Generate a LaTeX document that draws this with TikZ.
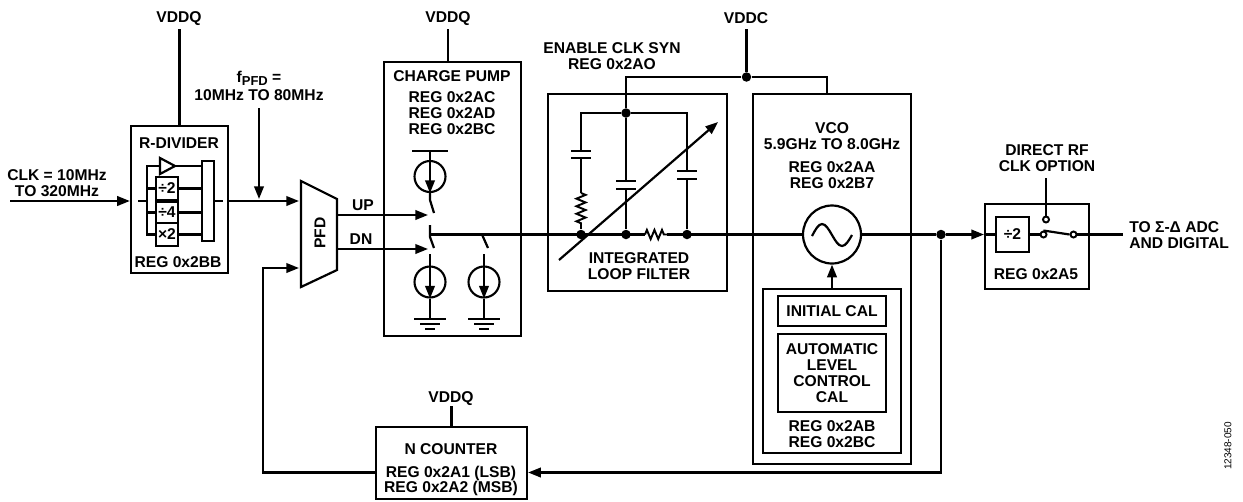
\documentclass[tikz,border=0pt]{standalone}
\usepackage{fontspec}
\setmainfont{Liberation Sans}
\usetikzlibrary{positioning,arrows.meta,calc,decorations.pathmorphing}
\tikzset{
  wire/.style={line width=1.25pt},
  sig/.style={-{Triangle[length=7.2pt,width=5.4pt]},line width=1.25pt},
  blk/.style={draw,line width=1.3pt,inner sep=0pt},
  lbl/.style={font=\fontsize{8.9}{9}\selectfont\bfseries,inner sep=0pt,align=center},
  dot/.style={circle,fill=black,inner sep=0pt,minimum size=0.19cm},
  csrc/.style={circle,draw,line width=1.2pt,inner sep=0pt,minimum size=0.62cm},
  swpt/.style={circle,draw,line width=1.1pt,fill=white,inner sep=0pt,minimum size=0.12cm},
  rzig/.style={line width=1.1pt,decorate,decoration={zigzag,amplitude=2.6pt,segment length=4.3pt}},
  plate/.style={line width=1.25pt},
}
\begin{document}
\begin{tikzpicture}[x=0.02cm,y=-0.02cm]
  \useasboundingbox (0,0) rectangle (1243,501);
  % boxes
  \node[blk,minimum width=1.94cm,minimum height=2.94cm] (rdiv) at (179.5,199.5) {};
  \node[blk,minimum width=2.74cm,minimum height=5.48cm] (pump) at (452.5,199) {};
  \node[blk,minimum width=3.58cm,minimum height=3.94cm] (filt) at (637.5,192.5) {};
  \node[blk,minimum width=3.16cm,minimum height=7.40cm] (vco) at (832,279) {};
  \node[blk,minimum width=2.76cm,minimum height=3.28cm] (cal) at (832,371) {};
  \node[blk,minimum width=2.16cm,minimum height=0.60cm] (ical) at (832,311) {};
  \node[blk,minimum width=2.16cm,minimum height=1.56cm] (alc) at (832,373) {};
  \node[blk,minimum width=2.08cm,minimum height=1.70cm] (out) at (1037,246.5) {};
  \node[blk,minimum width=3.02cm,minimum height=1.44cm] (ncnt) at (451.5,463) {};
  % labels
  \node[lbl] (vddqa) at (179,19) {VDDQ};
  \node[lbl] (vddqb) at (448,19) {VDDQ};
  \node[lbl] (vddqc) at (451,399) {VDDQ};
  \node[lbl] (vddc) at (746,18) {VDDC};
  \node[lbl] (clk) at (57,183) {CLK = 10MHz\\TO 320MHz};
  \node[lbl] (fpfd) at (259,86) {f\raisebox{-2pt}{\fontsize{7.4}{8}\selectfont PFD} =\\[1.5pt]10MHz TO 80MHz};
  \node[lbl] (rname) at (179,143) {R-DIVIDER};
  \node[lbl] (rreg) at (178,262) {REG 0x2BB};
  \node[lbl] (uplbl) at (363,205) {UP};
  \node[lbl] (dnlbl) at (361,239) {DN};
  \node[lbl,rotate=90] (pfdlbl) at (320,233) {PFD};
  \node[lbl] (pname) at (452,76) {CHARGE PUMP};
  \node[lbl] (preg) at (452,113) {REG 0x2AC\\REG 0x2AD\\REG 0x2BC};
  \node[lbl] (enlbl) at (612,56) {ENABLE CLK SYN\\REG 0x2AO};
  \node[lbl] (fname) at (639,266) {INTEGRATED\\LOOP FILTER};
  \node[lbl] (vname) at (832,136) {VCO\\5.9GHz TO 8.0GHz};
  \node[lbl] (vreg) at (832,175) {REG 0x2AA\\REG 0x2B7};
  \node[lbl] (icallbl) at (ical) {INITIAL CAL};
  \node[lbl] (alclbl) at (alc) {AUTOMATIC\\LEVEL\\CONTROL\\CAL};
  \node[lbl] (calreg) at (832,434) {REG 0x2AB\\REG 0x2BC};
  \node[lbl] (dirrf) at (1047,158) {DIRECT RF\\CLK OPTION};
  \node[lbl] (outreg) at (1036,274) {REG 0x2A5};
  \node[lbl,anchor=west,align=left] (outlbl) at (1129,235) {TO Σ-Δ ADC\\AND DIGITAL};
  \node[lbl] (nname) at (451,449) {N COUNTER};
  \node[lbl] (nreg) at (451,481) {REG 0x2A1 (LSB)\\REG 0x2A2 (MSB)};
  \node[font=\fontsize{5.7}{6}\selectfont,rotate=90,inner sep=0pt] (code) at (1228,446) {12348-050};
  % r-divider inside
  \node[blk,minimum width=0.24cm,minimum height=1.60cm] (mux) at (208,201) {};
  \node[blk,lbl,minimum width=0.44cm,minimum height=0.46cm] (dtwo) at (167,188.5) {÷2};
  \node[blk,lbl,minimum width=0.44cm,minimum height=0.42cm] (dfour) at (167,212.5) {÷4};
  \node[blk,lbl,minimum width=0.44cm,minimum height=0.46cm] (mtwo) at (167,234.5) {×2};
  \coordinate (bufin) at (160,166);
  \coordinate (bufout) at (175,166);
  \coordinate (rail) at (147,166);
  \draw[wire] (bufin) -- (rail) -- (rail |- mtwo.west) -- (mtwo.west);
  \draw[plate] (160,158) -- (bufout) -- (160,174) -- cycle;
  \draw[wire] (bufout) -- (bufout -| mux.west);
  \foreach \n in {dtwo,dfour,mtwo} {
    \draw[wire] (\n.east) -- (\n.east -| mux.west);
    \draw[wire] (\n.west) -- (\n.west -| rail);
  }
  \draw[wire] (138,201) -- (rail |- 138,201);
  \draw[wire] (mux.east) -- (223,201);
  % pfd
  \coordinate (pfdnw) at (301,181);
  \coordinate (pfdne) at (337,199);
  \coordinate (pfdse) at (337,270);
  \coordinate (pfdsw) at (301,287);
  \draw[plate] (pfdnw) -- (pfdne) -- (pfdse) -- (pfdsw) -- cycle;
  % supplies
  \draw[wire] (rdiv.north |- 0,29) -- (rdiv.north);
  \draw[wire] (448,29) -- (pump.north -| 448,0);
  \draw[wire] (ncnt.north |- 0,406) -- (ncnt.north);
  % clock path
  \coordinate (clkin) at (10,201);
  \coordinate (fdown) at (259,108);
  \draw[sig] (clkin) -- (rdiv.west |- clkin);
  \draw[sig] (rdiv.east |- clkin) -- (299,201);
  \draw[sig] (fdown) -- (259,199);
  \draw[sig] (337,215) -- (428,215);
  \draw[sig] (337,249) -- (428,249);
  % feedback
  \node[dot] (fbdot) at (941,234.5) {};
  \draw[sig] (fbdot) -- (941,472.5) -- (ncnt.east |- 941,472.5);
  \draw[sig] (ncnt.west |- 0,472.5) -- (263,472.5) -- (263,268) -- (299,268);
  % charge pump sources
  \node[csrc] (srca) at (430,176.5) {};
  \draw[plate] (412,151) -- (448,151);
  \draw[wire] (430,151) -- (srca.north);
  \draw[sig] (srca.north) -- (srca.south);
  \draw[wire] (srca.south) -- (430,200) -- (434,213);
  \foreach \x/\n in {430/srcb,484/srcc} {
    \node[csrc] (\n) at (\x,282) {};
    \draw[wire] (\x,254) -- (\n.north);
    \draw[sig] (\n.north) -- (\n.south);
    \draw[wire] (\n.south) -- (\x,319);
    \draw[plate] (\x-16,319) -- (\x+16,319);
    \draw[plate] (\x-10,324) -- (\x+10,324);
    \draw[plate] (\x-5,329) -- (\x+5,329);
  }
  \draw[wire] (434,248) -- (430,237) -- (430,225);
  \draw[wire] (482,234.5) -- (488,248);
  % loop filter
  \node[dot] (ftop) at (626,113) {};
  \node[dot] (fbl) at (581,234.5) {};
  \node[dot] (fbc) at (626,234.5) {};
  \node[dot] (fbr) at (687,234.5) {};
  \node[dot] (vdot) at (746.5,77) {};
  \draw[wire] (746.5,29) -- (vdot);
  \draw[wire] (ftop) -- (626,77) -- (vdot) -- (827,77) -- (827,94);
  \draw[wire] (581,151) -- (581,113) -- (ftop) -- (687,113) -- (687,171);
  \draw[plate] (571,151) -- (591,151);
  \draw[plate] (571,158) -- (591,158);
  \draw[wire] (581,158) -- (581,193);
  \draw[rzig] (581,193) -- (581,224);
  \draw[wire] (581,224) -- (fbl);
  \draw[wire] (ftop) -- (626,181);
  \draw[plate] (616,181) -- (636,181);
  \draw[plate] (616,189) -- (636,189);
  \draw[wire] (626,189) -- (fbc);
  \draw[plate] (677,171) -- (697,171);
  \draw[plate] (677,179) -- (697,179);
  \draw[wire] (687,179) -- (fbr);
  \draw[sig] (559,260) -- (718,122);
  % vco
  \node[circle,draw,line width=1.25pt,inner sep=0pt,minimum size=1.16cm] (osc) at (832,234.5) {};
  \draw[wire] (812,236) sin (822,224) cos (832,235) sin (842,246) cos (852,235);
  \draw[sig] (cal.north) -- (osc.south);
  % main line
  \draw[wire] (430,234.5) -- (645,234.5);
  \draw[rzig] (645,234.5) -- (667,234.5);
  \draw[wire] (667,234.5) -- (osc.west);
  \draw[wire] (osc.east) -- (fbdot);
  \draw[sig] (fbdot) -- (984,234.5);
  % output switch
  \node[blk,lbl,minimum width=0.66cm,minimum height=0.70cm] (dout) at (1012.5,234.5) {÷2};
  \node[swpt] (swa) at (1043.5,234.5) {};
  \node[swpt] (swb) at (1073.5,234.5) {};
  \node[swpt] (swc) at (1046,219.5) {};
  \draw[wire] (out.west |- dout.west) -- (dout.west);
  \draw[wire] (dout.east) -- (swa);
  \draw[wire] (swa.north) -- (swb.west);
  \draw[wire] (swb) -- (1123,234.5);
  \draw[wire] (1046,178) -- (swc);
\end{tikzpicture}
\end{document}
